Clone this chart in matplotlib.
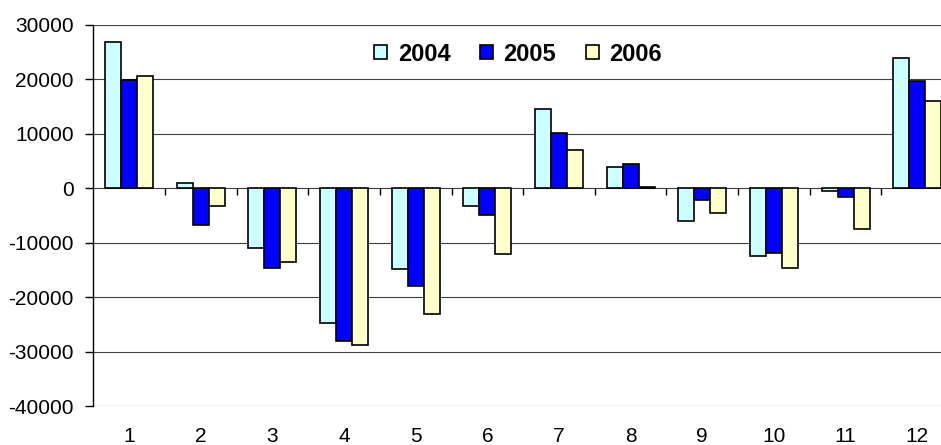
import matplotlib
matplotlib.use('Agg')
from matplotlib import pyplot as plt
import numpy as np

months = list(range(1, 13))
years = ['2004', '2005', '2006']
vals_2004 = [26900, 1000, -11000, -24800, -14900, -3300, 14600, 3900, -6100, -12400, -500, 23800]
vals_2005 = [19900, -6700, -14600, -28000, -18000, -5000, 10200, 4500, -2200, -11800, -1600, 19600]
vals_2006 = [20500, -3300, -13500, -28700, -23000, -12100, 7100, 300, -4600, -14600, -7500, 16000]
colors = ['#CCFFFF', '#0000FF', '#FFFFCC']

plt.rc('font', family=['Liberation Sans', 'DejaVu Sans'])
plt.rc('axes', unicode_minus=False)

fig = plt.figure(figsize=(9.41, 4.45), dpi=100)
ax = fig.add_axes([0.0992, 0.087, 0.9136, 0.8576])

x = np.arange(1, 13)
w = 0.223
for i, (vals, yr) in enumerate(zip([vals_2004, vals_2005, vals_2006], years)):
    ax.bar(x + (i - 1) * w, vals, width=w, color=colors[i], edgecolor='black',
           linewidth=1.2, label=yr, zorder=3)

ax.set_xlim(0.5, 12.5)
ax.set_ylim(-40000, 30000)
ax.set_yticks(range(-40000, 30001, 10000))
ax.set_xticks(x, [str(m) for m in months])
ax.tick_params(axis='x', length=0, pad=15, labelsize=15)
ax.tick_params(axis='y', length=6, width=1, pad=8, labelsize=15)
ax.grid(axis='y', color='#404040', linewidth=0.8, zorder=0)
for s in ['top', 'right', 'bottom']:
    ax.spines[s].set_visible(False)
ax.spines['left'].set_linewidth(1)

# zero axis with tick marks between categories
sec = ax.secondary_xaxis(4 / 7)
sec.set_xticks(np.arange(1.5, 12, 1), [''] * 11)
sec.xaxis.set_ticks_position('bottom')
sec.tick_params(axis='x', direction='out', length=5, width=1)
sec.spines['bottom'].set_linewidth(1.2)
sec.spines['top'].set_visible(False)

ax.legend(loc='center', bbox_to_anchor=(0.494, 0.923), ncol=3, frameon=False,
          prop={'weight': 'bold', 'size': 17}, handlelength=0.55, handleheight=0.55,
          handletextpad=0.45, columnspacing=1.25)

fig.savefig('out.png', dpi=100, facecolor='white')
